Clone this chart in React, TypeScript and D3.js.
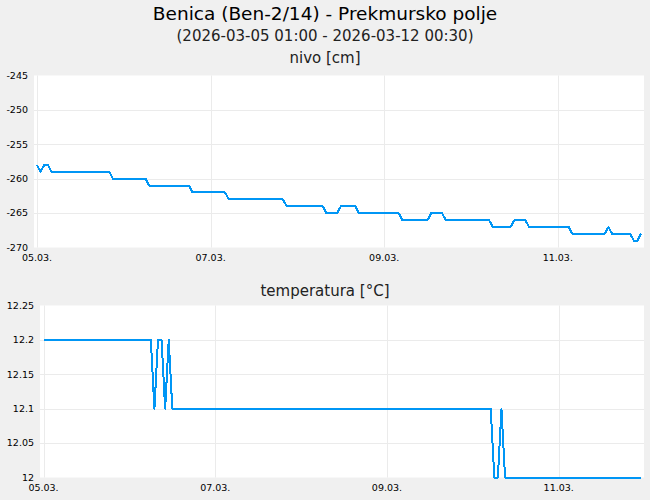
import React, { useRef, useEffect } from 'react';
import * as d3 from 'd3';

// hourly readings, one row per day (05.03. - 11.03.)
const levelValues: number[] = [
  -258, -259, -258, -258, -259, -259, -259, -259, -259, -259, -259, -259, -259, -259, -259, -259, -259, -259, -259, -259, -259, -260, -260, -260,
  -260, -260, -260, -260, -260, -260, -260, -261, -261, -261, -261, -261, -261, -261, -261, -261, -261, -261, -261, -262, -262, -262, -262, -262,
  -262, -262, -262, -262, -262, -263, -263, -263, -263, -263, -263, -263, -263, -263, -263, -263, -263, -263, -263, -263, -263, -264, -264, -264,
  -264, -264, -264, -264, -264, -264, -264, -264, -265, -265, -265, -265, -264, -264, -264, -264, -264, -265, -265, -265, -265, -265, -265, -265,
  -265, -265, -265, -265, -265, -266, -266, -266, -266, -266, -266, -266, -266, -265, -265, -265, -265, -266, -266, -266, -266, -266, -266, -266,
  -266, -266, -266, -266, -266, -266, -267, -267, -267, -267, -267, -267, -266, -266, -266, -266, -267, -267, -267, -267, -267, -267, -267, -267,
  -267, -267, -267, -267, -268, -268, -268, -268, -268, -268, -268, -268, -268, -268, -267, -268, -268, -268, -268, -268, -268, -269, -269, -268,
];

const tempValues: number[] = [
  12.2, 12.2, 12.2, 12.2, 12.2, 12.2, 12.2, 12.2, 12.2, 12.2, 12.2, 12.2, 12.2, 12.2, 12.2, 12.2, 12.2, 12.2, 12.2, 12.2, 12.2, 12.2, 12.2, 12.2,
  12.2, 12.2, 12.2, 12.2, 12.2, 12.2, 12.2, 12.1, 12.2, 12.2, 12.1, 12.2, 12.1, 12.1, 12.1, 12.1, 12.1, 12.1, 12.1, 12.1, 12.1, 12.1, 12.1, 12.1,
  12.1, 12.1, 12.1, 12.1, 12.1, 12.1, 12.1, 12.1, 12.1, 12.1, 12.1, 12.1, 12.1, 12.1, 12.1, 12.1, 12.1, 12.1, 12.1, 12.1, 12.1, 12.1, 12.1, 12.1,
  12.1, 12.1, 12.1, 12.1, 12.1, 12.1, 12.1, 12.1, 12.1, 12.1, 12.1, 12.1, 12.1, 12.1, 12.1, 12.1, 12.1, 12.1, 12.1, 12.1, 12.1, 12.1, 12.1, 12.1,
  12.1, 12.1, 12.1, 12.1, 12.1, 12.1, 12.1, 12.1, 12.1, 12.1, 12.1, 12.1, 12.1, 12.1, 12.1, 12.1, 12.1, 12.1, 12.1, 12.1, 12.1, 12.1, 12.1, 12.1,
  12.1, 12.1, 12.1, 12.1, 12.1, 12.1, 12.0, 12.0, 12.1, 12.0, 12.0, 12.0, 12.0, 12.0, 12.0, 12.0, 12.0, 12.0, 12.0, 12.0, 12.0, 12.0, 12.0, 12.0,
  12.0, 12.0, 12.0, 12.0, 12.0, 12.0, 12.0, 12.0, 12.0, 12.0, 12.0, 12.0, 12.0, 12.0, 12.0, 12.0, 12.0, 12.0, 12.0, 12.0, 12.0, 12.0, 12.0, 12.0,
];

const levelTicks = [-270, -265, -260, -255, -250, -245];
const tempTicks = [12, 12.05, 12.1, 12.15, 12.2, 12.25];

const title = 'Benica (Ben-2/14) - Prekmursko polje';
const subtitle = '(2026-03-05 01:00 - 2026-03-12 00:30)';

const startTime = new Date(2026, 2, 5, 0, 0);
const endTime = new Date(2026, 2, 12, 0, 0);

const colors = {
  background: '#f0f0f0',
  plot: '#ffffff',
  grid: '#ebebeb',
  line: '#0096f5',
  text: '#000000',
};

const font = '"DejaVu Sans", Verdana, sans-serif';

export default function App() {
  const svgRef = useRef<SVGSVGElement>(null);
  const width = 650;
  const height = 500;

  useEffect(() => {
    if (!svgRef.current) return;
    const svg = d3.select(svgRef.current);
    svg.selectAll('*').remove();

    const hours = d3.timeHour.range(startTime, endTime);

    svg.append('rect').attr('width', width).attr('height', height).attr('fill', colors.background);

    svg.append('text')
      .attr('x', width / 2).attr('y', 20)
      .attr('text-anchor', 'middle')
      .attr('font-size', 18.5)
      .attr('fill', colors.text)
      .text(title);

    svg.append('text')
      .attr('x', width / 2).attr('y', 41)
      .attr('text-anchor', 'middle')
      .attr('font-size', 15)
      .attr('fill', '#222')
      .text(subtitle);

    const drawPanel = (
      label: string,
      labelY: number,
      values: number[],
      ticks: number[],
      box: { left: number; right: number; top: number; bottom: number },
      xRange: [number, number],
      xLabelY: number,
    ) => {
      const g = svg.append('g');

      g.append('text')
        .attr('x', width / 2).attr('y', labelY)
        .attr('text-anchor', 'middle')
        .attr('font-size', 15)
        .attr('fill', '#222')
        .text(label);

      g.append('rect')
        .attr('x', box.left).attr('y', box.top)
        .attr('width', box.right - box.left).attr('height', box.bottom - box.top)
        .attr('fill', colors.plot);

      const x = d3.scaleTime()
        .domain(d3.extent(hours) as [Date, Date])
        .range(xRange);

      const y = d3.scaleLinear()
        .domain(d3.extent(ticks) as [number, number])
        .range([box.bottom, box.top]);

      const xTicks = x.ticks(d3.timeDay.every(2)!);

      // grid
      g.selectAll('.hgrid')
        .data(ticks.slice(1, -1))
        .join('line')
        .attr('x1', box.left).attr('x2', box.right)
        .attr('y1', d => Math.round(y(d)) + 0.5).attr('y2', d => Math.round(y(d)) + 0.5)
        .attr('stroke', colors.grid);

      g.selectAll('.vgrid')
        .data(xTicks)
        .join('line')
        .attr('x1', d => Math.round(x(d)) + 0.5).attr('x2', d => Math.round(x(d)) + 0.5)
        .attr('y1', box.top).attr('y2', box.bottom)
        .attr('stroke', colors.grid);

      // tick labels
      g.selectAll('.ylab')
        .data(ticks)
        .join('text')
        .attr('x', box.left - 6)
        .attr('y', d => y(d))
        .attr('dy', '0.35em')
        .attr('text-anchor', 'end')
        .attr('font-size', 9.5)
        .attr('fill', colors.text)
        .text(d => String(d));

      g.selectAll('.xlab')
        .data(xTicks)
        .join('text')
        .attr('x', d => x(d))
        .attr('y', xLabelY)
        .attr('text-anchor', 'middle')
        .attr('font-size', 9.5)
        .attr('fill', colors.text)
        .text(d => d3.timeFormat('%d.%m.')(d));

      const line = d3.line<number>()
        .x((_, i) => x(hours[i]))
        .y(d => y(d));

      g.append('path')
        .datum(values)
        .attr('d', line)
        .attr('fill', 'none')
        .attr('stroke', colors.line)
        .attr('stroke-width', 2)
        .attr('stroke-linejoin', 'round')
        .attr('shape-rendering', 'crispEdges');
    };

    drawPanel('nivo [cm]', 63, levelValues, levelTicks,
      { left: 34, right: 644, top: 75.5, bottom: 247.5 }, [37, 641], 261);
    drawPanel('temperatura [°C]', 296, tempValues, tempTicks,
      { left: 40, right: 644, top: 305.5, bottom: 477.5 }, [43.5, 641], 491);
  }, []);

  return (
    <svg
      ref={svgRef}
      width={width}
      height={height}
      style={{ position: 'absolute', left: 0, top: 0, display: 'block', fontFamily: font }}
    />
  );
}
